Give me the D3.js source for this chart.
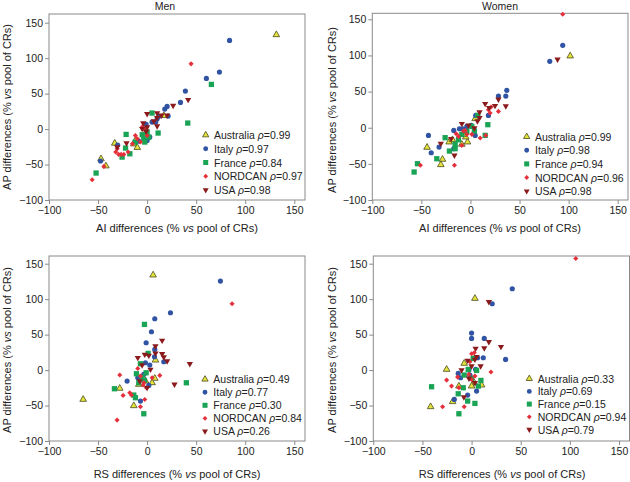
<!DOCTYPE html>
<html><head><meta charset="utf-8">
<script src="https://cdn.jsdelivr.net/npm/d3@7"></script>
<style>body{margin:0;background:#fff} text{font-family:"Liberation Sans",Arial,Helvetica,sans-serif;fill:#222}</style>
</head><body><svg id="c" width="630" height="482"></svg>
<script>
const countries = ["Australia", "Italy", "France", "NORDCAN", "USA"];
const ticks = [-100, -50, 0, 50, 100, 150];

const rhoMenAI = ["0.99", "0.97", "0.84", "0.97", "0.98"];
const rhoWomenAI = ["0.99", "0.98", "0.94", "0.96", "0.98"];
const rhoMenRS = ["0.49", "0.77", "0.30", "0.84", "0.26"];
const rhoWomenRS = ["0.33", "0.69", "0.15", "0.94", "0.79"];

// Men, AI differences (x) vs AP differences (y)
const menAI_Australia = [[131.7,133],[-47,-42],[-42,-52],[-33,-20],[-11.5,-15],[-13.6,-21],[-10,-26],[17,19],[-2,-6]];
const menAI_Italy = [[84,125],[73.7,80.4],[60.4,71.4],[39,53.6],[34,37.6],[20.4,32],[18,28.2],[21.4,18.3],[10.2,14.6],[8.8,9.9],[5,9.9],[-1,6.6],[2.7,-11.3],[-8.5,-17],[-30,-22.6],[-47.5,-45],[0,-16],[12,18]];
const menAI_France = [[65.5,63],[41.4,8.5],[5,22.6],[11.2,-5.6],[-21.4,-7.5],[-22,-26.8],[-17.6,-34.8],[-25.5,-39.5],[-52,-62],[-5,-8],[-3.4,-13.6],[0,-4],[1.7,-11.3],[-2.4,-18.3],[-12,-18.3]];
const menAI_NORDCAN = [[44.8,92],[-56,-71.4],[-44,-52.6],[-30.5,-27.7],[-29,-35.7],[-26.5,-35.7],[-23.8,-35.7],[-19.4,-32.4],[-12,-9],[-6.8,-18.3],[-5,2.8],[0,-9],[-15,-20.7],[-10,-13.6],[-32,-32.4],[-3,0.5]];
const menAI_USA = [[41.8,41.4],[26.5,33],[14.6,19.3],[0,21.6],[10.2,22.6],[10.2,16],[10.2,4.2],[-4,8.5],[0,2.8],[-1,-3.3],[-21,-19.7],[-30.5,-25.4],[20.4,19.3],[-5,0.5],[6.8,11.3]];

// Women, AI differences vs AP differences
const womenAI_Australia = [[101.6,99.2],[-44.2,-27.2],[-28.5,-43.8],[-30.2,-51.2],[-21.7,-19.8],[-18.3,-16.6],[-8.8,-23],[-3,-19.8],[-4.8,-12.9],[4.8,12.5],[-7.1,-9.2]];
const womenAI_Italy = [[94,114],[80.8,91.8],[37,51.7],[36,43.8],[28.5,43.8],[18.3,17],[5.4,17],[4.8,-10.6],[0.7,3.2],[-3.7,1.8],[-7.8,-1.4],[-17,-3.7],[-17,-29],[-42.8,-10.6],[-32,-26.8],[-40,-34.6],[-11.2,-1.4]];
const womenAI_France = [[-54,-49.8],[-57.4,-61.3],[-34.3,-42.9],[-25.8,-13.8],[-21.4,-32.3],[-15.6,-23],[-15.6,-29],[-8.8,-9.2],[-3.7,-5],[1.4,1.8],[7.5,17],[17.7,4.2],[15,-10.6],[4,-4.6],[-12.2,-16.6]];
const womenAI_NORDCAN = [[94,157],[-51,-52],[-16.3,-52],[-5.4,-3.7],[-3.7,-9.2],[1.4,-9.2],[9.9,-14.3],[18.3,24.9],[21,28.6],[28.5,22.6],[20,20.3],[15.6,-10.6],[-12.2,-12],[-8.8,-24.4],[-14.6,-8.3],[-7.1,-4.6]];
const womenAI_USA = [[88.7,94.6],[15,33.2],[25,30.4],[28.5,39.2],[36,30],[9.2,13.8],[19,27.7],[9.2,21.7],[-8.8,5.5],[4,-0.5],[-16.3,-38.3],[-30.2,-22],[-19.7,-15.2],[-2,3.2],[7.1,9.2]];

// Men, RS differences vs AP differences
const menRS_Australia = [[6.1,134],[-65.2,-41.4],[-27.9,-25.8],[-13.6,-50.3],[8.5,14],[7.8,-11.7],[5.1,-17.9],[-1.7,-15.5],[-8.5,-20.2]];
const menRS_Italy = [[74.7,125.5],[23.8,80.8],[7.8,72.4],[4.4,54],[-1,38.5],[7.8,29.1],[7.5,18.8],[17,11.7],[-1.7,10.3],[2.7,7],[-20.4,-15.5],[-6.8,-43.7],[1.7,-21.6],[-9.5,-10.8],[-3.4,-6.1]];
const menRS_France = [[-2.7,64.4],[1,23.5],[-6.8,8.9],[-10.9,-5.2],[-5.1,-9.9],[-2.7,-14.6],[-1,-3.8],[-8.5,-17.9],[40,-17.9],[-33.3,-26.3],[-13.6,-35.2],[-11.9,-39],[-3.4,-61.6]];
const menRS_NORDCAN = [[86.6,93.5],[-30.6,-70.5],[-27.9,-7],[-24.5,-35.7],[-17.7,-32],[-16,-35.2],[-6.8,-51.7],[-2.4,-41.4],[-9.5,2.3],[-6.8,-8.5],[-3.4,-17.9],[5.1,-10.8],[12.9,-7.5],[-0.7,-24.9],[-4,-21]];
const menRS_USA = [[15.3,41.8],[8.5,33.8],[-2.4,22],[1.7,20.6],[15.3,23],[17,18.3],[-9.5,17.4],[8.5,23.5],[20.4,12.7],[43.5,8.9],[27.9,-20.2],[-5.1,7],[0,-24.9],[-7.5,-15.5],[3.4,0.9]];

// Women, RS differences vs AP differences
const womenRS_Australia = [[3.4,101],[-41.7,-51.7],[-25.4,0.9],[-7.5,9.4],[-19.3,-44.6],[-12.9,-22.6],[2.7,-17.9],[10.2,-21.1],[0,-22.6]];
const womenRS_Italy = [[41.4,114.7],[21,93.5],[0,52.2],[0,44.6],[12.9,44.6],[11.9,17.4],[6.1,17.4],[34.6,15],[4.1,0.9],[-2.7,0],[-13.6,-4.7],[-11.2,-10.8],[-17.6,-41.4],[-4,-35.2],[5.1,-29.6],[-1.7,-7]];
const womenRS_France = [[-40.7,-23.5],[-12.9,-61.6],[3.4,-47],[-4,-43.7],[-13.6,-33.4],[-8.5,-24.9],[-7.5,-7],[-3.4,0.9],[1.7,16.4],[5.1,-0.5],[9.5,-14.6],[6.8,-22.6],[0,-11.7]];
const womenRS_NORDCAN = [[106,157.4],[-29.5,-51.7],[-25.4,-14.1],[-20.4,-22.6],[-7.5,-51.7],[-14.2,-9.9],[19.7,-2.8],[0,23],[2.7,24.4],[-1.7,11.7],[-2.7,-6.1],[0,-13.2],[3.4,-8.5],[-12.9,-24.9]];
const womenRS_USA = [[17.6,96.3],[17.6,39.9],[29.9,32.9],[12.9,31],[4.1,30.5],[5.1,18.8],[3.4,15],[-4,13.6],[0,5.6],[9.2,5.6],[-10.2,0],[-7.8,-38],[3.4,-17.9],[-2.7,-11.7]];

const panels = [
  {title:"Men", xlab:"AI", data:[menAI_Australia,menAI_Italy,menAI_France,menAI_NORDCAN,menAI_USA], rho:rhoMenAI,
   fx:[49,305], fy:[14,200], rx:[49,294.3], ry:[200,22.7], leg:[205.7,214,135,13.75], tt:[165,10], yl:[7,107], xl:[177,232]},
  {title:"Women", xlab:"AI", data:[womenAI_Australia,womenAI_Italy,womenAI_France,womenAI_NORDCAN,womenAI_USA], rho:rhoWomenAI,
   fx:[372.3,628], fy:[13.3,200], rx:[372.3,617.7], ry:[200,19.3], leg:[526.7,535,136.7,13.6], tt:[500,10], yl:[332,110], xl:[500,232]},
  {title:"", xlab:"RS", data:[menRS_Australia,menRS_Italy,menRS_France,menRS_NORDCAN,menRS_USA], rho:rhoMenRS,
   fx:[49,305], fy:[256,441], rx:[49,294.3], ry:[441,263.7], leg:[205,213.3,379.3,13], tt:null, yl:[7,350], xl:[177,478]},
  {title:"", xlab:"RS", data:[womenRS_Australia,womenRS_Italy,womenRS_France,womenRS_NORDCAN,womenRS_USA], rho:rhoWomenRS,
   fx:[373.3,629.5], fy:[256,441], rx:[373.3,619], ry:[441,263.7], leg:[529.3,537.7,378.7,12.7], tt:null, yl:[332,350], xl:[502,478]}
];

const styles = [
  {sym:d3.symbolTriangle, size:19, fill:"#e4e43c", stroke:"#4a4a1e", sw:0.8, rot:0},
  {sym:d3.symbolCircle, size:21, fill:"#3153a3", stroke:"none", sw:0, rot:0},
  {sym:d3.symbolSquare, size:28, fill:"#19a355", stroke:"none", sw:0, rot:0},
  {sym:d3.symbolSquare, size:13, fill:"#e5303c", stroke:"none", sw:0, rot:45},
  {sym:d3.symbolTriangle, size:17, fill:"#8a1a1c", stroke:"none", sw:0, rot:180}
];

const svg = d3.select("#c");
const FS = 10.5;

panels.forEach(p => {
  const g = svg.append("g");
  const x = d3.scaleLinear().domain([-100,150]).range(p.rx);
  const y = d3.scaleLinear().domain([-100,150]).range(p.ry);

  g.append("rect").attr("x",p.fx[0]).attr("y",p.fy[0]).attr("width",p.fx[1]-p.fx[0]).attr("height",p.fy[1]-p.fy[0])
    .attr("fill","none").attr("stroke","#8a8a8a").attr("stroke-width",1);

  const ax = g.append("g").attr("transform",`translate(0,${p.fy[1]})`)
    .call(d3.axisBottom(x).tickValues(ticks).tickSize(4).tickSizeOuter(0).tickPadding(3));
  const ay = g.append("g").attr("transform",`translate(${p.fx[0]},0)`)
    .call(d3.axisLeft(y).tickValues(ticks).tickSize(4).tickSizeOuter(0).tickPadding(2));
  [ax,ay].forEach(a => {
    a.select(".domain").remove();
    a.selectAll("line").attr("stroke","#8a8a8a");
    a.selectAll("text").attr("font-size",FS).attr("font-family","Liberation Sans, Arial, sans-serif").attr("fill","#222");
  });

  if (p.tt) g.append("text").attr("x",p.tt[0]).attr("y",p.tt[1]).attr("text-anchor","middle").attr("font-size",FS).text(p.title);

  const yt = g.append("text").attr("transform",`translate(${p.yl[0]},${p.yl[1]}) rotate(-90)`)
    .attr("text-anchor","middle").attr("dominant-baseline","central").attr("font-size",11);
  yt.append("tspan").text("AP differences (% ");
  yt.append("tspan").attr("font-style","italic").text("vs");
  yt.append("tspan").text(" pool of CRs)");

  const xt = g.append("text").attr("x",p.xl[0]).attr("y",p.xl[1]).attr("text-anchor","middle").attr("font-size",11);
  xt.append("tspan").text(p.xlab + " differences (% ");
  xt.append("tspan").attr("font-style","italic").text("vs");
  xt.append("tspan").text(" pool of CRs)");

  p.data.forEach((pts, i) => {
    const s = styles[i];
    const path = d3.symbol().type(s.sym).size(s.size)();
    g.append("g").selectAll("path").data(pts).join("path")
      .attr("d", path)
      .attr("transform", d => `translate(${x(d[0])},${y(d[1])}) rotate(${s.rot})`)
      .attr("fill", s.fill).attr("stroke", s.stroke).attr("stroke-width", s.sw);
  });

  countries.forEach((c, i) => {
    const s = styles[i];
    const cy = p.leg[2] + i*p.leg[3];
    g.append("path").attr("d", d3.symbol().type(s.sym).size(s.size*0.9)())
      .attr("transform", `translate(${p.leg[0]},${cy}) rotate(${s.rot})`)
      .attr("fill", s.fill).attr("stroke", s.stroke).attr("stroke-width", s.sw);
    const t = g.append("text").attr("x", p.leg[1]).attr("y", cy).attr("dominant-baseline","central").attr("font-size",FS);
    t.append("tspan").text(c + " ");
    t.append("tspan").attr("font-style","italic").text("ρ");
    t.append("tspan").text("=" + p.rho[i]);
  });
});
</script></body></html>
